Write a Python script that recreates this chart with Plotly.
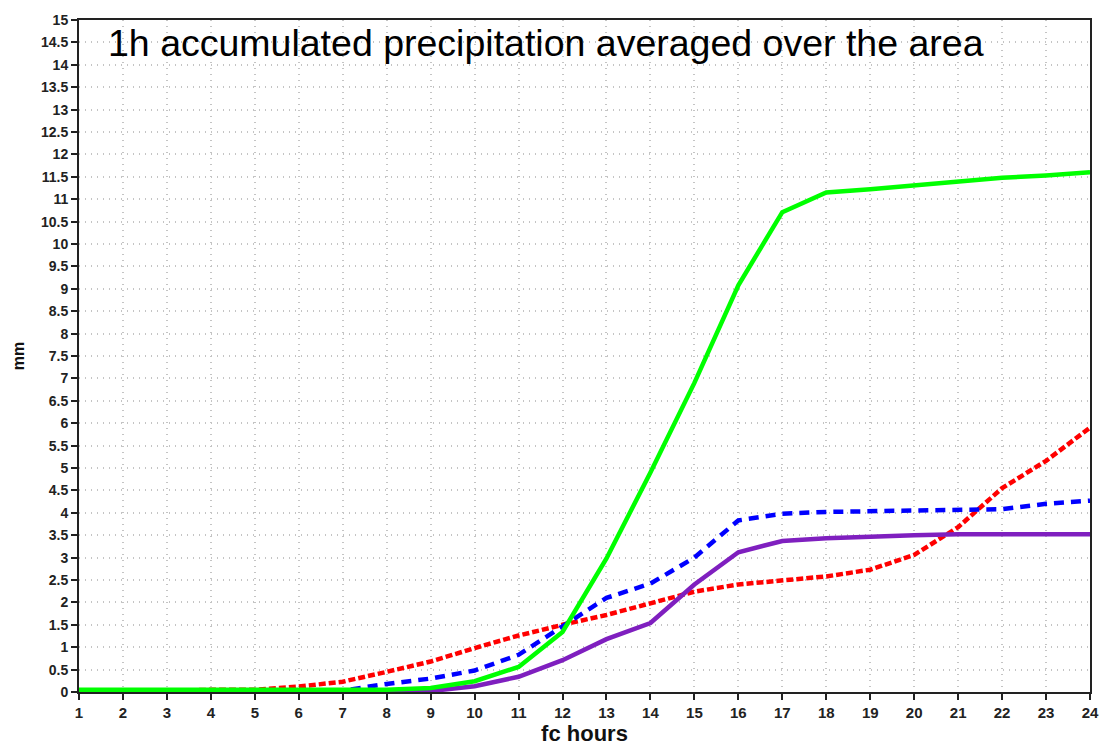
import plotly.graph_objects as go

hours = list(range(1, 25))
green = [0.05, 0.05, 0.05, 0.05, 0.05, 0.05, 0.05, 0.05, 0.09, 0.24, 0.56, 1.34,
         2.98, 4.9, 6.9, 9.08, 10.71, 11.15, 11.22, 11.3, 11.4, 11.48, 11.53, 11.6]
purple = [0.0, 0.0, 0.0, 0.0, 0.0, 0.0, 0.0, 0.0, 0.02, 0.13, 0.34, 0.71,
          1.18, 1.54, 2.4, 3.12, 3.37, 3.43, 3.47, 3.5, 3.52, 3.52, 3.52, 3.52]
blue = [0.0, 0.0, 0.0, 0.0, 0.0, 0.0, 0.03, 0.18, 0.3, 0.48, 0.83, 1.47,
        2.1, 2.42, 3.0, 3.83, 3.98, 4.02, 4.03, 4.06, 4.06, 4.08, 4.2, 4.27]
red = [0.02, 0.02, 0.02, 0.05, 0.05, 0.12, 0.23, 0.45, 0.68, 0.98, 1.26, 1.5,
       1.72, 1.98, 2.24, 2.4, 2.48, 2.58, 2.73, 3.06, 3.68, 4.55, 5.16, 5.9]

y_ticks = [i * 0.5 for i in range(31)]
y_ticktext = [("%g" % v) for v in y_ticks]

fig = go.Figure()
fig.add_trace(go.Scatter(x=hours, y=red, mode="lines",
                         line=dict(color="#ff0000", width=4.5, dash="7px,3px")))
fig.add_trace(go.Scatter(x=hours, y=blue, mode="lines",
                         line=dict(color="#0000ff", width=4.5, dash="10px,7px")))
fig.add_trace(go.Scatter(x=hours, y=purple, mode="lines",
                         line=dict(color="#7f1fbf", width=4.5)))
fig.add_trace(go.Scatter(x=hours, y=green, mode="lines",
                         line=dict(color="#00ff00", width=4.5)))

ff = "Liberation Sans, Arial, sans-serif"

fig.update_layout(
    width=1113, height=756,
    margin=dict(l=79, r=23, t=20, b=64),
    paper_bgcolor="white", plot_bgcolor="white",
    showlegend=False,
    font=dict(family=ff),
    xaxis=dict(range=[1, 24], tickvals=hours, ticktext=[str(h) for h in hours],
               showgrid=True, gridcolor="#c4c4c4", griddash="1px,5px", gridwidth=1.5,
               showline=True, linecolor="#222222", linewidth=2, mirror=True,
               ticks="outside", ticklen=6, tickcolor="#222222", tickwidth=1.5,
               tickfont=dict(family=ff, size=15, color="#222222", weight="bold"),
               title=dict(text="<b>fc hours</b>", font=dict(size=22, color="#111111"), standoff=6),
               zeroline=False),
    yaxis=dict(range=[0, 15], tickvals=y_ticks, ticktext=y_ticktext,
               showgrid=True, gridcolor="#c4c4c4", griddash="1px,5px", gridwidth=1.5,
               showline=True, linecolor="#222222", linewidth=2, mirror=True,
               ticks="outside", ticklen=6, tickcolor="#222222", tickwidth=1.5,
               tickfont=dict(family=ff, size=14, color="#222222", weight="bold"),
               title=dict(text="<b>mm</b>", font=dict(size=16, color="#111111"), standoff=12),
               zeroline=False),
    annotations=[dict(text="1h accumulated precipitation averaged over the area",
                      xref="paper", yref="paper", x=0.027, y=1.0,
                      xanchor="left", yanchor="top", showarrow=False,
                      font=dict(family=ff, size=37.5, color="#000000"))],
)

fig.write_html("out.html")
